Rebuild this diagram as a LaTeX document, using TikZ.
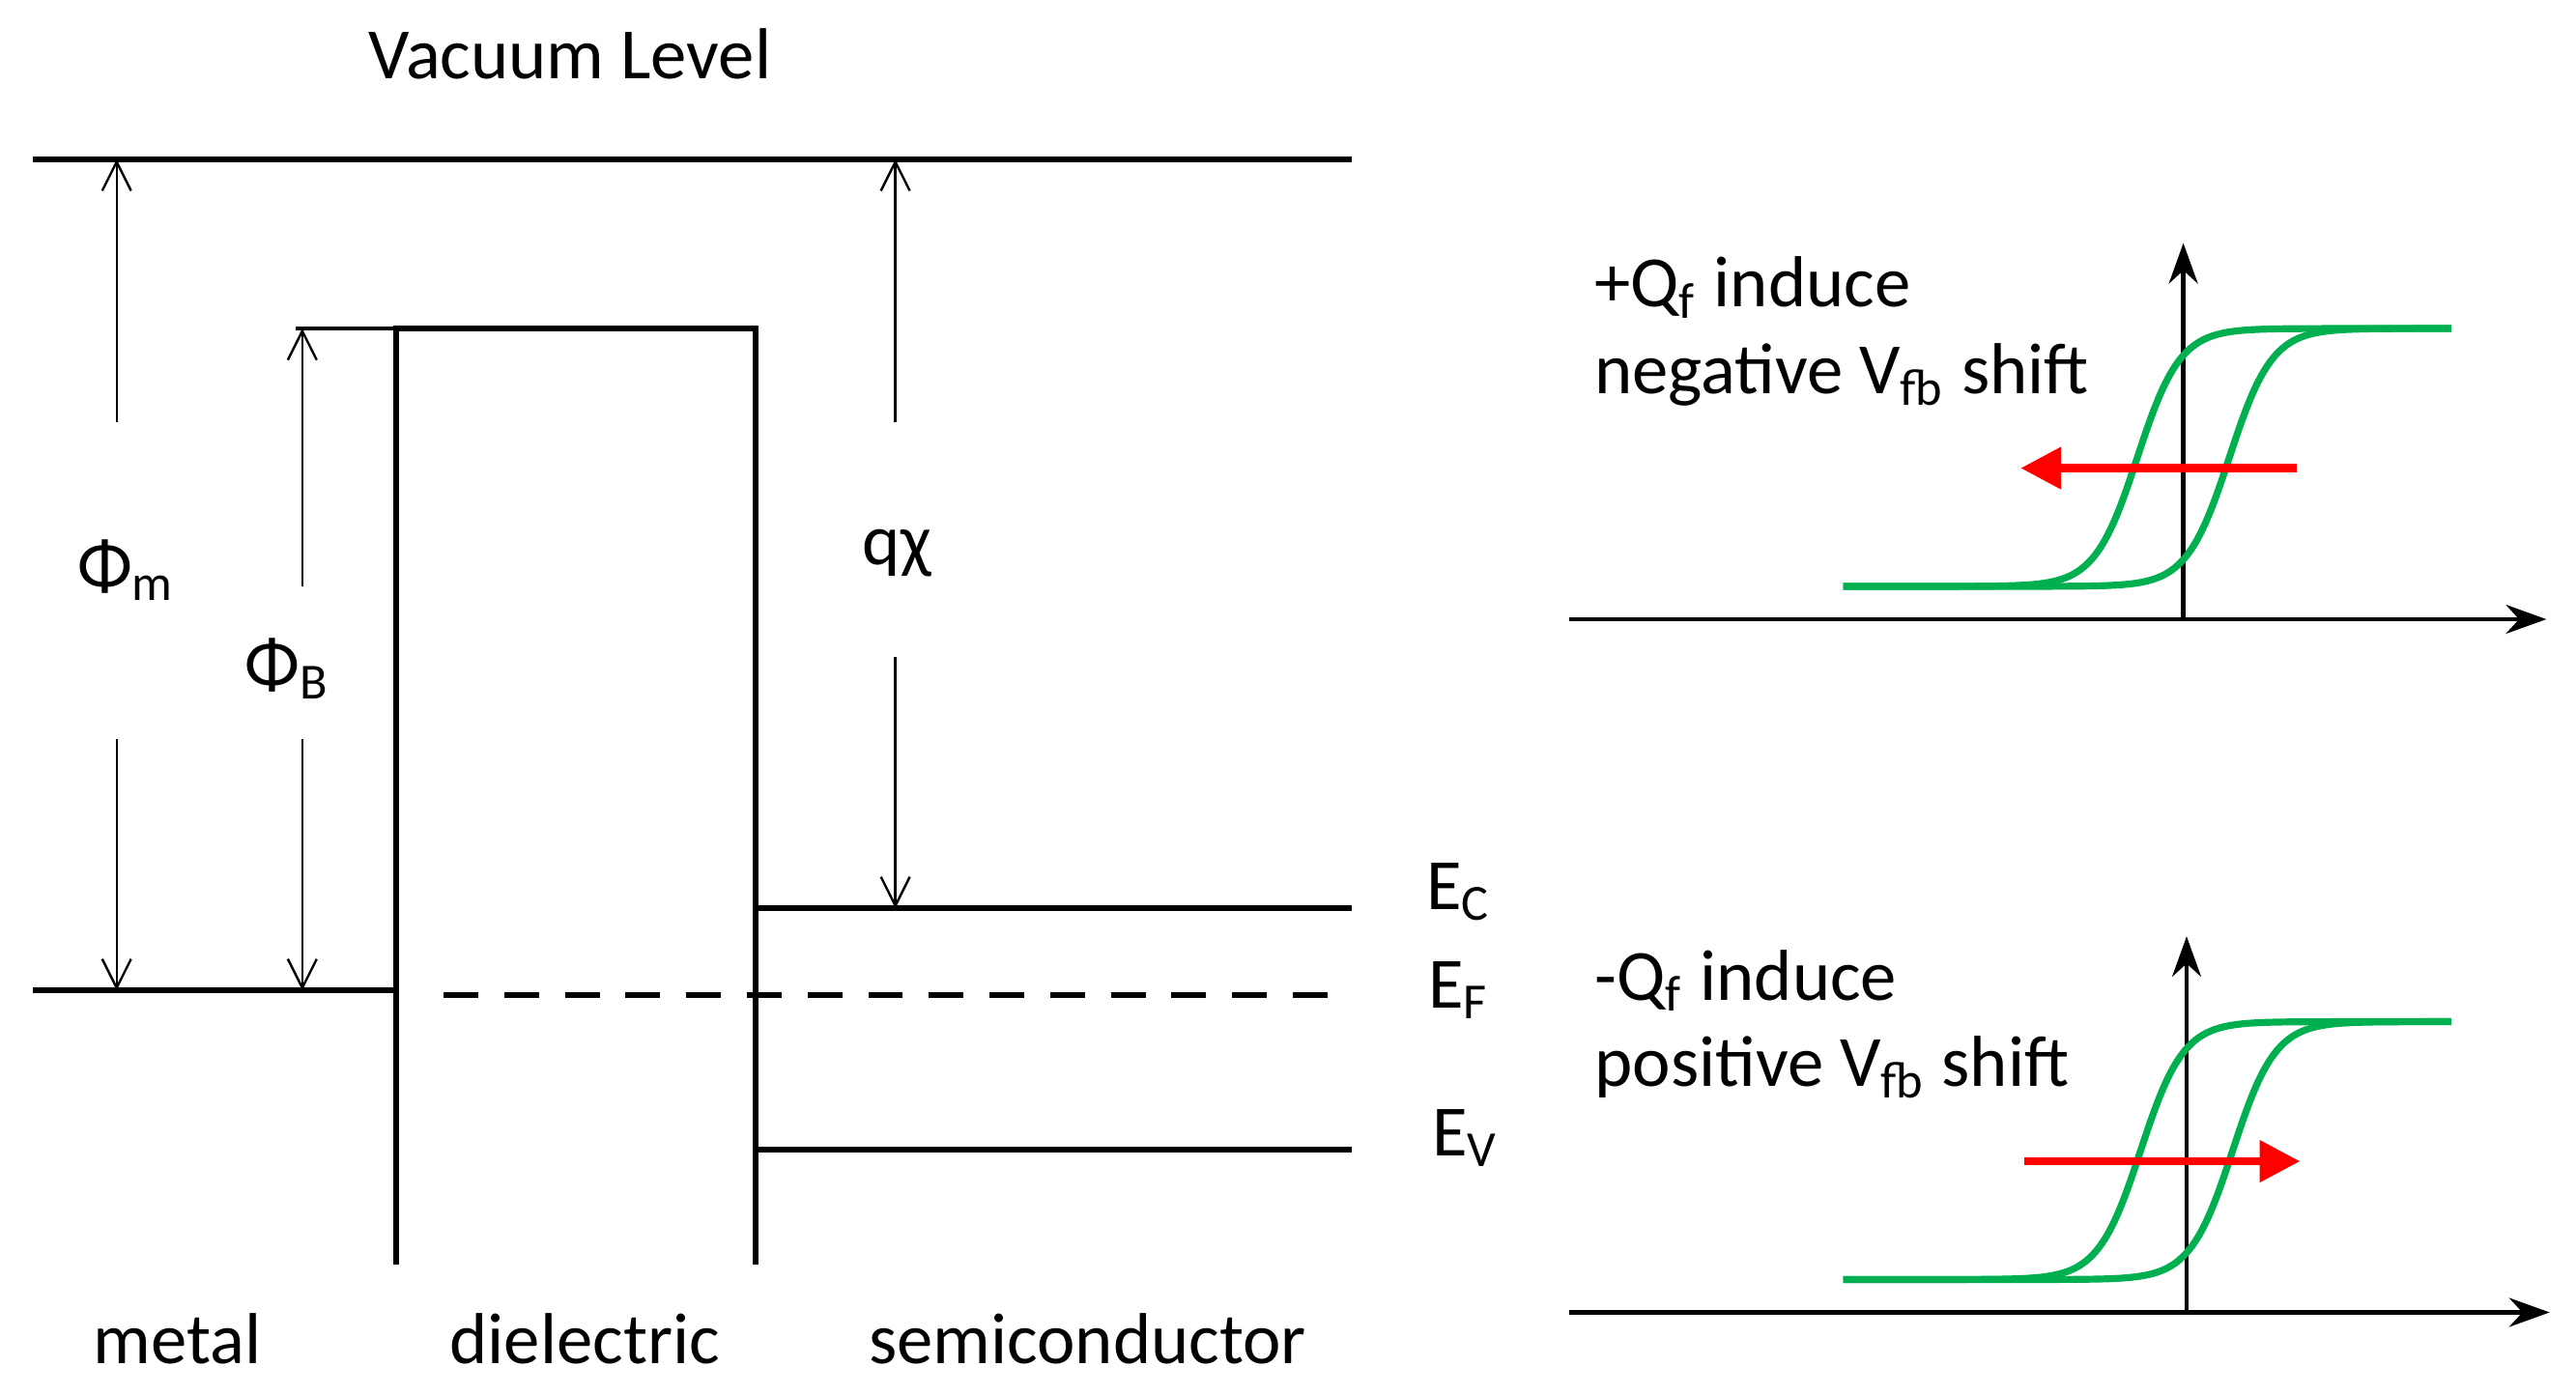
\documentclass[tikz,border=0pt]{standalone}
\usepackage{fontspec}
\setmainfont{Carlito}
\usetikzlibrary{arrows.meta}
\begin{document}
\begin{tikzpicture}[x=0.01cm,y=-0.01cm,
  band/.style={line width=1.0pt},
  dim/.style={line width=0.4pt,-{Straight Barb[length=5pt,width=5pt]}},
  lbl/.style={font=\fontsize{12.5}{14}\selectfont,inner sep=0pt},
  axis/.style={line width=0.8pt,-{Stealth[length=7pt,width=5pt]}},
  loop/.style={draw={rgb,255:red,0;green,176;blue,80},line width=1.2pt},
  redarrow/.style={draw=red,line width=1.4pt,-{Triangle[length=7pt,width=7pt]}},
  declare function={sg(\t)=0.5+0.5*tanh(max(-6,min(6,\t)));}]
\useasboundingbox (0,0) rectangle (1568,849);
% band diagram
\coordinate (vacL) at (20,97); \coordinate (vacR) at (823,97);
\draw[band] (vacL) -- (vacR);
\draw[band] (20,603) -- (241,603);
\draw[line width=0.6pt] (180,200) -- (241,200);
\draw[band] (241,770) -- (241,200) -- (460,200) -- (460,770);
\draw[band,dash pattern=on 6pt off 4.5pt] (270,606) -- (823,606);
\draw[band] (460,553) -- (823,553);
\draw[band] (460,700) -- (823,700);
% dimension arrows
\node[lbl] (phim) at (77,347) {Φ\textsubscript{m}};
\node[lbl] (phib) at (175,407) {Φ\textsubscript{B}};
\node[lbl] (qchi) at (546,337) {qχ};
\coordinate (a1) at (71,257); \coordinate (a1t) at (71,97);
\coordinate (a2) at (71,450); \coordinate (a2b) at (71,603);
\draw[dim] (a1) -- (a1t); \draw[dim] (a2) -- (a2b);
\coordinate (b1) at (184,357); \coordinate (b1t) at (184,200);
\coordinate (b2) at (184,450); \coordinate (b2b) at (184,603);
\draw[dim] (b1) -- (b1t); \draw[dim] (b2) -- (b2b);
\coordinate (c1) at (545,257); \coordinate (c1t) at (545,97);
\coordinate (c2) at (545,400); \coordinate (c2b) at (545,553);
\draw[dim] (c1) -- (c1t); \draw[dim] (c2) -- (c2b);
% labels
\node[lbl] (vl) at (347,33) {Vacuum Level};
\node[lbl] (ec) at (888,543) {E\textsubscript{C}};
\node[lbl] (ef) at (888,603) {E\textsubscript{F}};
\node[lbl] (ev) at (892,693) {E\textsubscript{V}};
\node[lbl] (m) at (108,815) {metal};
\node[lbl] (d) at (356,815) {dielectric};
\node[lbl] (s) at (662,815) {semiconductor};
% plot 1
\coordinate (o1) at (955,377); \coordinate (x1) at (1550,377);
\coordinate (y1b) at (1329,377); \coordinate (y1) at (1329,148);
\draw[axis] (o1) -- (x1); \draw[axis] (y1b) -- (y1);
\draw[loop] plot[domain=1122:1492,samples=120,smooth] (\x,{357-157*sg((\x-1301)/26)});
\draw[loop] plot[domain=1122:1492,samples=120,smooth] (\x,{357-157*sg((\x-1357)/26)});
\coordinate (r1a) at (1398,285); \coordinate (r1b) at (1230,285);
\draw[redarrow] (r1a) -- (r1b);
\node[lbl,anchor=west] (t1) at (970,175) {+Q\textsubscript{f} induce};
\node[lbl,anchor=west] (t2) at (970,228) {negative V\textsubscript{fb} shift};
% plot 2
\coordinate (o2) at (955,799); \coordinate (x2) at (1552,799);
\coordinate (y2b) at (1331,799); \coordinate (y2) at (1331,570);
\draw[axis] (o2) -- (x2); \draw[axis] (y2b) -- (y2);
\draw[loop] plot[domain=1122:1492,samples=120,smooth] (\x,{779-157*sg((\x-1303)/26)});
\draw[loop] plot[domain=1122:1492,samples=120,smooth] (\x,{779-157*sg((\x-1359)/26)});
\coordinate (r2a) at (1232,707); \coordinate (r2b) at (1400,707);
\draw[redarrow] (r2a) -- (r2b);
\node[lbl,anchor=west] (t3) at (970,597) {-Q\textsubscript{f} induce};
\node[lbl,anchor=west] (t4) at (970,650) {positive V\textsubscript{fb} shift};
\end{tikzpicture}
\end{document}
